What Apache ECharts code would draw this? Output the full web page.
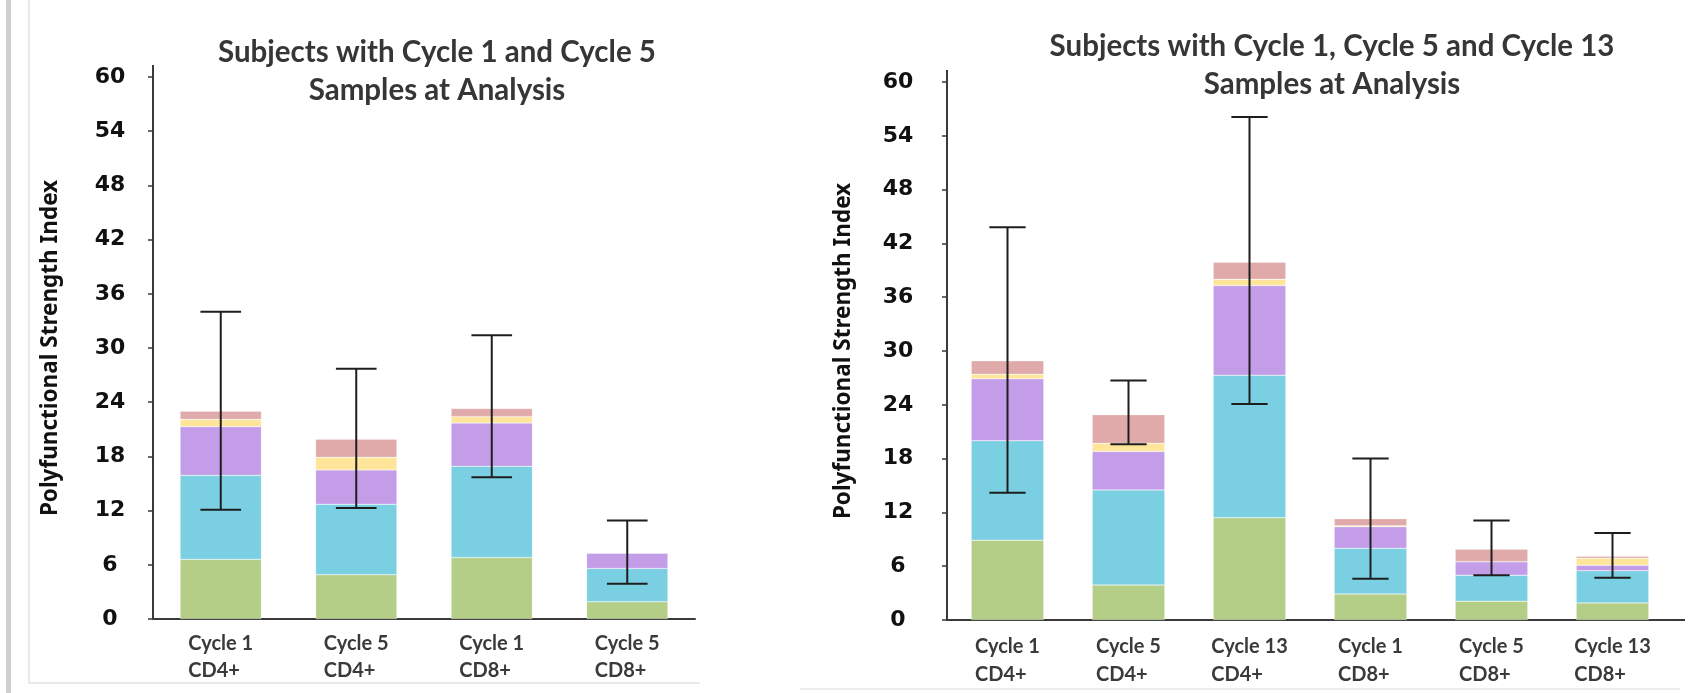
<!DOCTYPE html>
<html>
<head>
<meta charset="utf-8">
<script src="https://cdn.jsdelivr.net/npm/echarts@6/dist/echarts.min.js"></script>
<style>
html,body{margin:0;padding:0;background:#fff;}
#c{width:1688px;height:693px;}
</style>
</head>
<body>
<div id="c"></div>
<script>
// ---------- data ----------
const yTicks = [0, 6, 12, 18, 24, 30, 36, 42, 48, 54, 60];
const segmentNames = ['Green', 'Cyan', 'Purple', 'Yellow', 'Red'];

const leftTitle = ['Subjects with Cycle 1 and Cycle 5', 'Samples at Analysis'];
const leftCats = ['Cycle 1\nCD4+', 'Cycle 5\nCD4+', 'Cycle 1\nCD8+', 'Cycle 5\nCD8+'];
const leftGreen  = [6.6, 4.9, 6.8, 1.9];
const leftCyan   = [9.3, 7.8, 10.1, 3.7];
const leftPurple = [5.4, 3.8, 4.8, 1.7];
const leftYellow = [0.8, 1.4, 0.7, 0];
const leftRed    = [0.9, 2.0, 0.9, 0];
const leftErrLow  = [12.1, 12.3, 15.7, 3.9];
const leftErrHigh = [34.0, 27.7, 31.4, 10.9];

const rightTitle = ['Subjects with Cycle 1, Cycle 5 and Cycle 13', 'Samples at Analysis'];
const rightCats = ['Cycle 1\nCD4+', 'Cycle 5\nCD4+', 'Cycle 13\nCD4+', 'Cycle 1\nCD8+', 'Cycle 5\nCD8+', 'Cycle 13\nCD8+'];
const rightGreen  = [8.9, 3.9, 11.4, 2.9, 2.1, 1.9];
const rightCyan   = [11.1, 10.6, 15.9, 5.1, 2.9, 3.6];
const rightPurple = [6.9, 4.3, 10.0, 2.4, 1.5, 0.6];
const rightYellow = [0.5, 0.9, 0.7, 0.1, 0, 0.8];
const rightRed    = [1.5, 3.2, 1.9, 0.8, 1.4, 0.2];
const rightErrLow  = [14.2, 19.6, 24.1, 4.6, 5.0, 4.7];
const rightErrHigh = [43.8, 26.7, 56.1, 18.0, 11.1, 9.7];

const yName = 'Polyfunctional Strength Index';

// ---------- styles ----------
const colors = ['#b4ce88', '#7bcfe2', '#c39de8', '#fee599', '#e0aaaa'];
const axisColor = '#3a3a3a';
const tickFont = {fontFamily: 'DejaVu Sans', fontWeight: 'bold', fontSize: 22, color: '#111'};
const catFont = {fontFamily: 'Lato', fontWeight: 'bold', fontSize: 20, color: '#3a3a3a'};

function yAxisFor(gridIndex, margin) {
  return {
    type: 'value', gridIndex: gridIndex, min: 0, max: 60, interval: 6,
    axisLine: {show: true, lineStyle: {color: axisColor, width: 2}},
    axisTick: {show: true, inside: false, length: 5, lineStyle: {color: axisColor, width: 1.5}},
    splitLine: {show: false},
    axisLabel: Object.assign({margin: margin, align: 'center',
      formatter: v => (yTicks.indexOf(v) >= 0 ? String(v) : '')}, tickFont)
  };
}
function xAxisFor(gridIndex, cats, lh, margin) {
  return {
    type: 'category', gridIndex: gridIndex, data: cats,
    axisLine: {show: true, lineStyle: {color: axisColor, width: 2}},
    axisTick: {show: false},
    axisLabel: Object.assign({
      interval: 0, margin: margin, lineHeight: lh,
      formatter: v => v.split('\n').map(s => '{a|' + s + '}').join('\n'),
      rich: {a: Object.assign({align: 'left', lineHeight: lh}, catFont)}
    }, catFont)
  };
}
function barSeries(gridIdx, segs) {
  return segs.map((d, i) => ({
    type: 'bar', name: segmentNames[i], xAxisIndex: gridIdx, yAxisIndex: gridIdx,
    stack: 'g' + gridIdx, barWidth: '60%', data: d,
    itemStyle: {color: colors[i], borderColor: 'rgba(255,255,255,0.5)', borderWidth: 0.5},
    silent: true
  }));
}
function errSeries(gridIdx, lows, highs) {
  return {
    type: 'custom', xAxisIndex: gridIdx, yAxisIndex: gridIdx, z: 10, silent: true,
    data: lows.map((l, i) => [i, l, highs[i]]),
    renderItem: function (params, api) {
      const x = api.value(0);
      const lo = api.coord([x, api.value(1)]);
      const hi = api.coord([x, api.value(2)]);
      const half = api.size([1, 0])[0] * 0.15;
      const st = {stroke: '#1e1e1e', lineWidth: 2};
      return {type: 'group', children: [
        {type: 'line', shape: {x1: lo[0], y1: lo[1], x2: hi[0], y2: hi[1]}, style: st},
        {type: 'line', shape: {x1: lo[0] - half, y1: lo[1], x2: lo[0] + half, y2: lo[1]}, style: st},
        {type: 'line', shape: {x1: hi[0] - half, y1: hi[1], x2: hi[0] + half, y2: hi[1]}, style: st}
      ]};
    }
  };
}
function titleText(lines, cx, y1, y2) {
  const st = {fontFamily: 'Lato', fontWeight: 'bold', fontSize: 29.5, fill: '#363636', align: 'center', verticalAlign: 'middle'};
  return [
    {type: 'text', x: cx, y: y1, style: Object.assign({text: lines[0]}, st)},
    {type: 'text', x: cx, y: y2, style: Object.assign({text: lines[1]}, st)}
  ];
}
function yNameText(cx, cy) {
  return {type: 'text', x: cx, y: cy, rotation: Math.PI / 2,
    style: {text: yName, fontFamily: 'Noto Sans', fontWeight: 'bold', fontSize: 22.5, fill: '#111', align: 'center', verticalAlign: 'middle'}};
}

const chart = echarts.init(document.getElementById('c'), null, {renderer: 'canvas'});
const option = {
  backgroundColor: '#fff',
  animation: false,
  grid: [
    {left: 153, top: 77, width: 542, height: 542},
    {left: 947, top: 82, width: 726, height: 538}
  ],
  xAxis: [xAxisFor(0, leftCats, 27, 11), xAxisFor(1, rightCats, 28, 13)],
  yAxis: [yAxisFor(0, 43), yAxisFor(1, 49)],
  series: [].concat(
    barSeries(0, [leftGreen, leftCyan, leftPurple, leftYellow, leftRed]),
    [errSeries(0, leftErrLow, leftErrHigh)],
    barSeries(1, [rightGreen, rightCyan, rightPurple, rightYellow, rightRed]),
    [errSeries(1, rightErrLow, rightErrHigh)]
  ),
  graphic: [].concat(
    titleText(leftTitle, 437, 52, 90),
    titleText(rightTitle, 1332, 46, 84),
    [yNameText(51, 348), yNameText(844, 351),
     // axis line extensions above the top tick
     {type: 'line', shape: {x1: 153, y1: 65, x2: 153, y2: 78}, style: {stroke: axisColor, lineWidth: 2}},
     {type: 'line', shape: {x1: 947, y1: 70, x2: 947, y2: 83}, style: {stroke: axisColor, lineWidth: 2}},
     {type: 'line', shape: {x1: 1672, y1: 620, x2: 1685, y2: 620}, style: {stroke: axisColor, lineWidth: 2}},
     // page frame decorations
     {type: 'rect', shape: {x: 6, y: 0, width: 5, height: 693}, style: {fill: '#cfcfcf'}},
     {type: 'line', shape: {x1: 29, y1: 0, x2: 29, y2: 683}, style: {stroke: '#d4d4d4', lineWidth: 1}},
     {type: 'line', shape: {x1: 29, y1: 683, x2: 700, y2: 683}, style: {stroke: '#d4d4d4', lineWidth: 1}},
     {type: 'line', shape: {x1: 800, y1: 689, x2: 1680, y2: 689}, style: {stroke: '#dcdcdc', lineWidth: 1}}
    ]
  )
};
chart.setOption(option);
</script>
</body>
</html>
